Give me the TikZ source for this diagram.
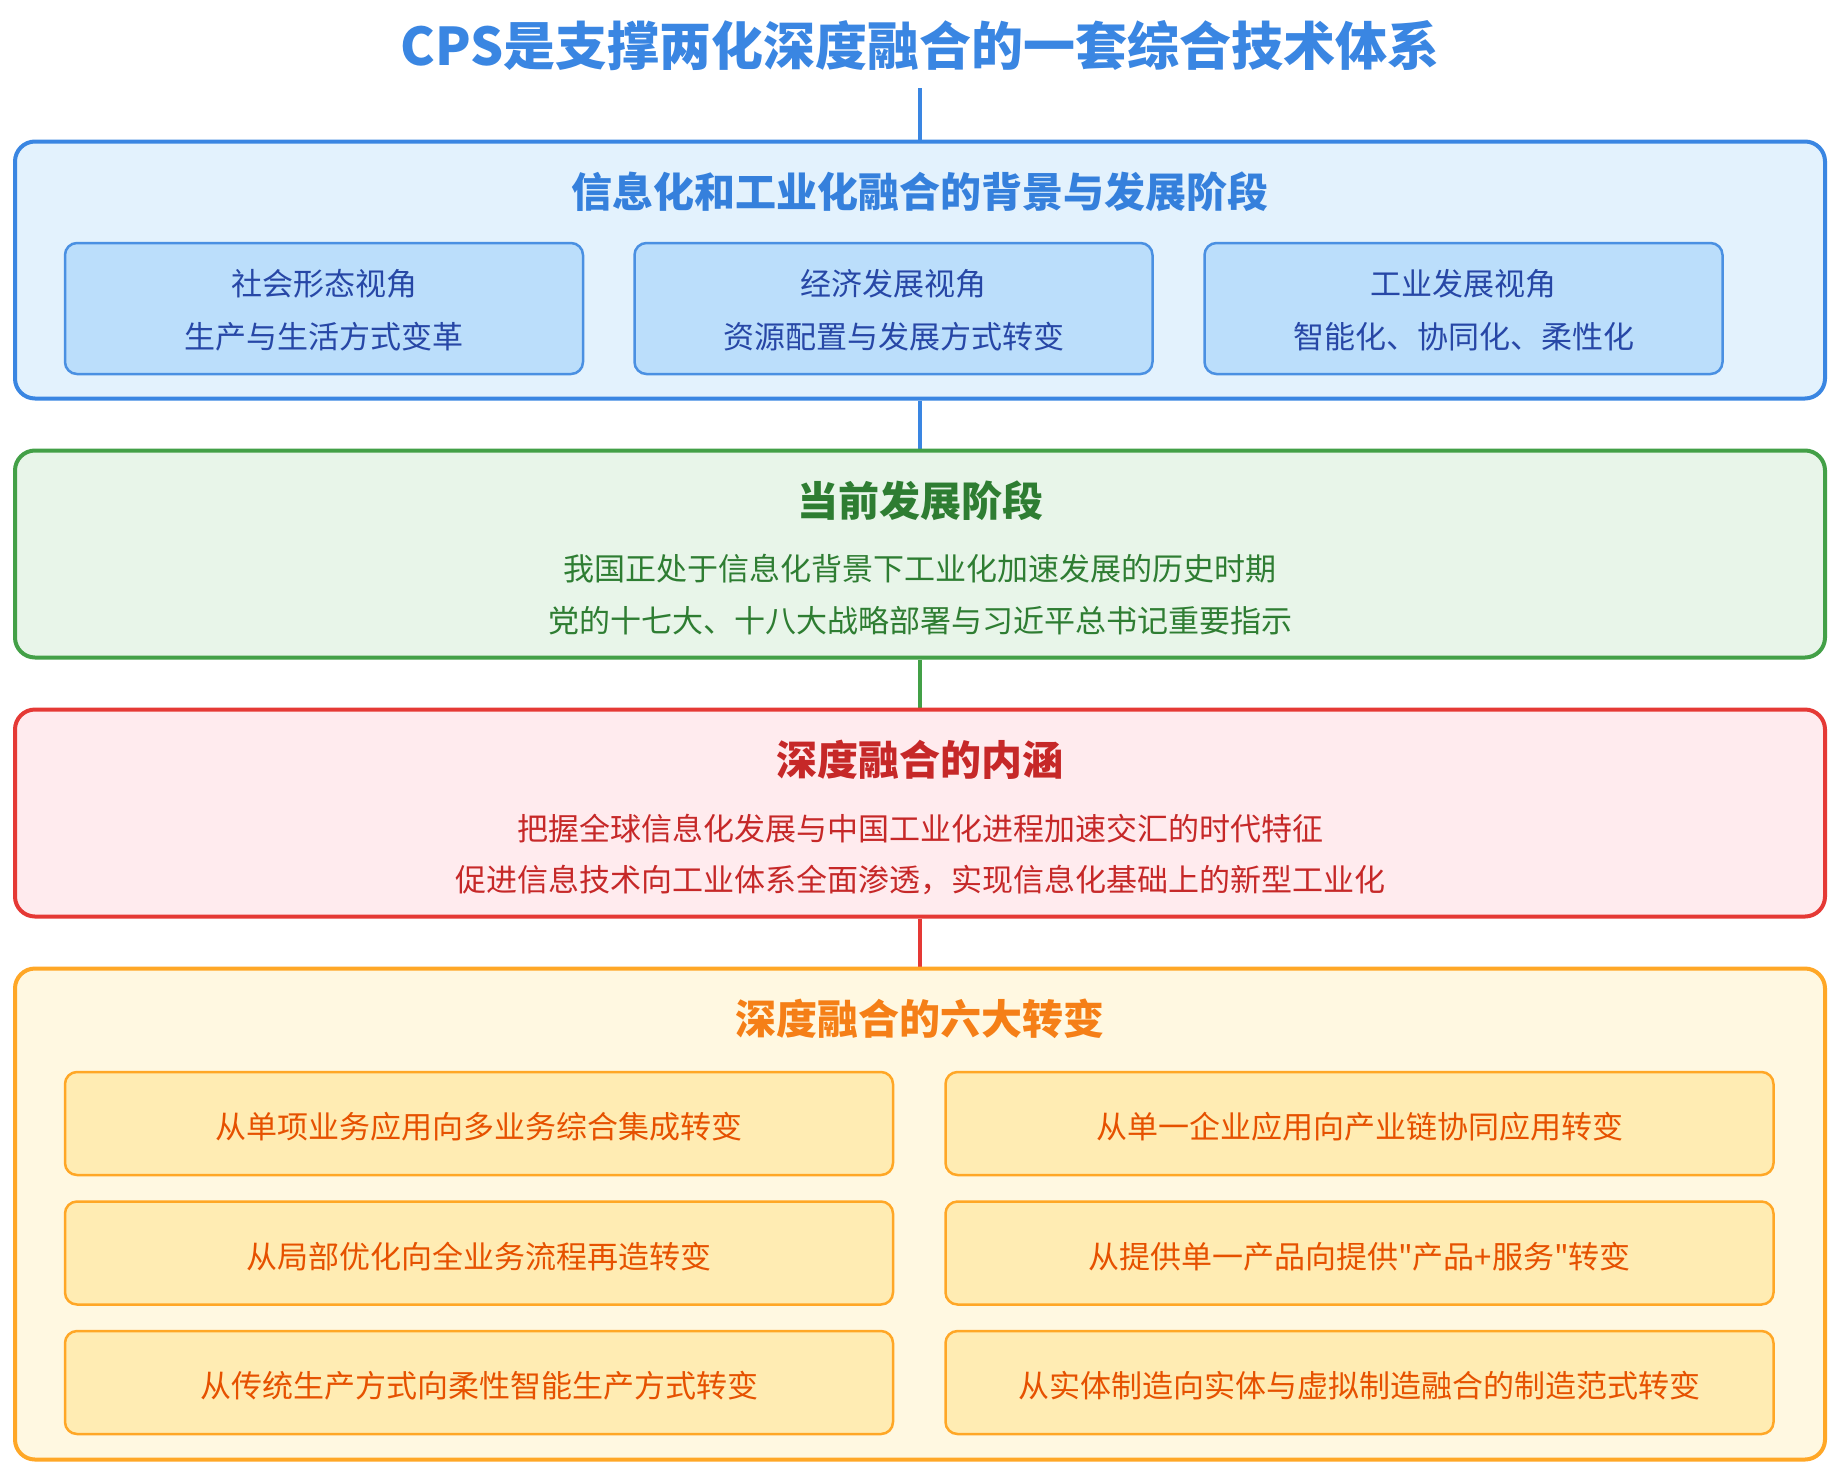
\documentclass[tikz,border=0pt]{standalone}
\usepackage{fontspec}
\newfontfamily\cjkfont{Noto Sans CJK SC}
\usetikzlibrary{backgrounds}
\definecolor{bluemain}{HTML}{3A86E2}
\definecolor{bluetitle}{HTML}{3580DC}
\definecolor{bluefill}{HTML}{E3F2FD}
\definecolor{blueinfill}{HTML}{BBDEFB}
\definecolor{blueinline}{HTML}{4A90E2}
\definecolor{bluetext}{HTML}{2747A6}
\definecolor{greenline}{HTML}{43A047}
\definecolor{greenfill}{HTML}{E8F5E9}
\definecolor{greentext}{HTML}{2E7D32}
\definecolor{redline}{HTML}{E53935}
\definecolor{redfill}{HTML}{FFEBEE}
\definecolor{redtext}{HTML}{C62828}
\definecolor{orangeline}{HTML}{FFA726}
\definecolor{orangefill}{HTML}{FFF8E1}
\definecolor{orangeinfill}{HTML}{FFECB3}
\definecolor{orangetext}{HTML}{E65100}
\definecolor{orangetitle}{HTML}{F57F17}
\tikzset{
  outerbox/.style={draw, rectangle, rounded corners=20pt, line width=4pt, minimum width=1810pt, inner sep=0pt},
  innerbox/.style={draw, rectangle, rounded corners=12pt, line width=2.5pt, inner sep=0pt},
  maintitle/.style={font=\cjkfont\fontsize{52}{58}\selectfont\bfseries, text=bluemain, inner sep=0pt},
  boxtitle/.style={font=\cjkfont\fontsize{41}{48}\selectfont\bfseries, inner sep=0pt},
  bodytext/.style={font=\cjkfont\fontsize{31}{36}\selectfont, inner sep=0pt},
  conn/.style={line width=4pt}
}
\begin{document}
\begin{tikzpicture}[x=1pt,y=-1pt]
\useasboundingbox (0,0) rectangle (1843,1475);
\begin{scope}[on background layer]
\fill[white] (0,0) rectangle (1843,1475);
\end{scope}

% title
\node[maintitle] (title) at (920,46) {CPS是支撑两化深度融合的一套综合技术体系};
\coordinate (t0) at (920,88);

% box 1
\node[outerbox, draw=bluemain, fill=bluefill, minimum height=257pt] (b1) at (920,270) {};
\node[boxtitle, text=bluetitle] (b1t) at (920,192) {信息化和工业化融合的背景与发展阶段};
\node[innerbox, draw=blueinline, fill=blueinfill, minimum width=518pt, minimum height=131pt] (v1) at (324,308.5) {};
\node[innerbox, draw=blueinline, fill=blueinfill, minimum width=518pt, minimum height=131pt] (v2) at (893.5,308.5) {};
\node[innerbox, draw=blueinline, fill=blueinfill, minimum width=518pt, minimum height=131pt] (v3) at (1463.5,308.5) {};
\node[bodytext, text=bluetext] (v1a) at (324,284) {社会形态视角};
\node[bodytext, text=bluetext] (v1b) at (324,337) {生产与生活方式变革};
\node[bodytext, text=bluetext] (v2a) at (893.5,284) {经济发展视角};
\node[bodytext, text=bluetext] (v2b) at (893.5,337) {资源配置与发展方式转变};
\node[bodytext, text=bluetext] (v3a) at (1463.5,284) {工业发展视角};
\node[bodytext, text=bluetext] (v3b) at (1463.5,337) {智能化、协同化、柔性化};

% box 2
\node[outerbox, draw=greenline, fill=greenfill, minimum height=207pt] (b2) at (920,554) {};
\node[boxtitle, text=greentext] (b2t) at (920,501) {当前发展阶段};
\node[bodytext, text=greentext] (b2a) at (920,569) {我国正处于信息化背景下工业化加速发展的历史时期};
\node[bodytext, text=greentext] (b2b) at (920,621) {党的十七大、十八大战略部署与习近平总书记重要指示};

% box 3
\node[outerbox, draw=redline, fill=redfill, minimum height=207pt] (b3) at (920,813) {};
\node[boxtitle, text=redtext] (b3t) at (920,760) {深度融合的内涵};
\node[bodytext, text=redtext] (b3a) at (920,829) {把握全球信息化发展与中国工业化进程加速交汇的时代特征};
\node[bodytext, text=redtext] (b3b) at (920,880) {促进信息技术向工业体系全面渗透，实现信息化基础上的新型工业化};

% box 4
\node[outerbox, draw=orangeline, fill=orangefill, minimum height=491pt] (b4) at (920,1214) {};
\node[boxtitle, text=orangetitle] (b4t) at (920,1019) {深度融合的六大转变};
\tikzset{obox/.style={innerbox, draw=orangeline, fill=orangeinfill, minimum width=828pt, minimum height=103pt}}
\node[obox] (s1) at (479,1123.5) {};
\node[obox] (s2) at (1359.5,1123.5) {};
\node[obox] (s3) at (479,1253) {};
\node[obox] (s4) at (1359.5,1253) {};
\node[obox] (s5) at (479,1382.5) {};
\node[obox] (s6) at (1359.5,1382.5) {};
\node[bodytext, text=orangetext] (s1t) at (479,1127) {从单项业务应用向多业务综合集成转变};
\node[bodytext, text=orangetext] (s2t) at (1359.5,1127) {从单一企业应用向产业链协同应用转变};
\node[bodytext, text=orangetext] (s3t) at (479,1256.5) {从局部优化向全业务流程再造转变};
\node[bodytext, text=orangetext] (s4t) at (1359.5,1256.5) {从提供单一产品向提供"产品+服务"转变};
\node[bodytext, text=orangetext] (s5t) at (479,1386) {从传统生产方式向柔性智能生产方式转变};
\node[bodytext, text=orangetext] (s6t) at (1359.5,1386) {从实体制造向实体与虚拟制造融合的制造范式转变};

% connectors
\begin{scope}[on background layer]
\draw[conn, draw=bluemain] (t0) -- (b1.north);
\draw[conn, draw=bluemain] (b1.south) -- (b2.north);
\draw[conn, draw=greenline] (b2.south) -- (b3.north);
\draw[conn, draw=redline] (b3.south) -- (b4.north);
\end{scope}
\end{tikzpicture}
\end{document}
